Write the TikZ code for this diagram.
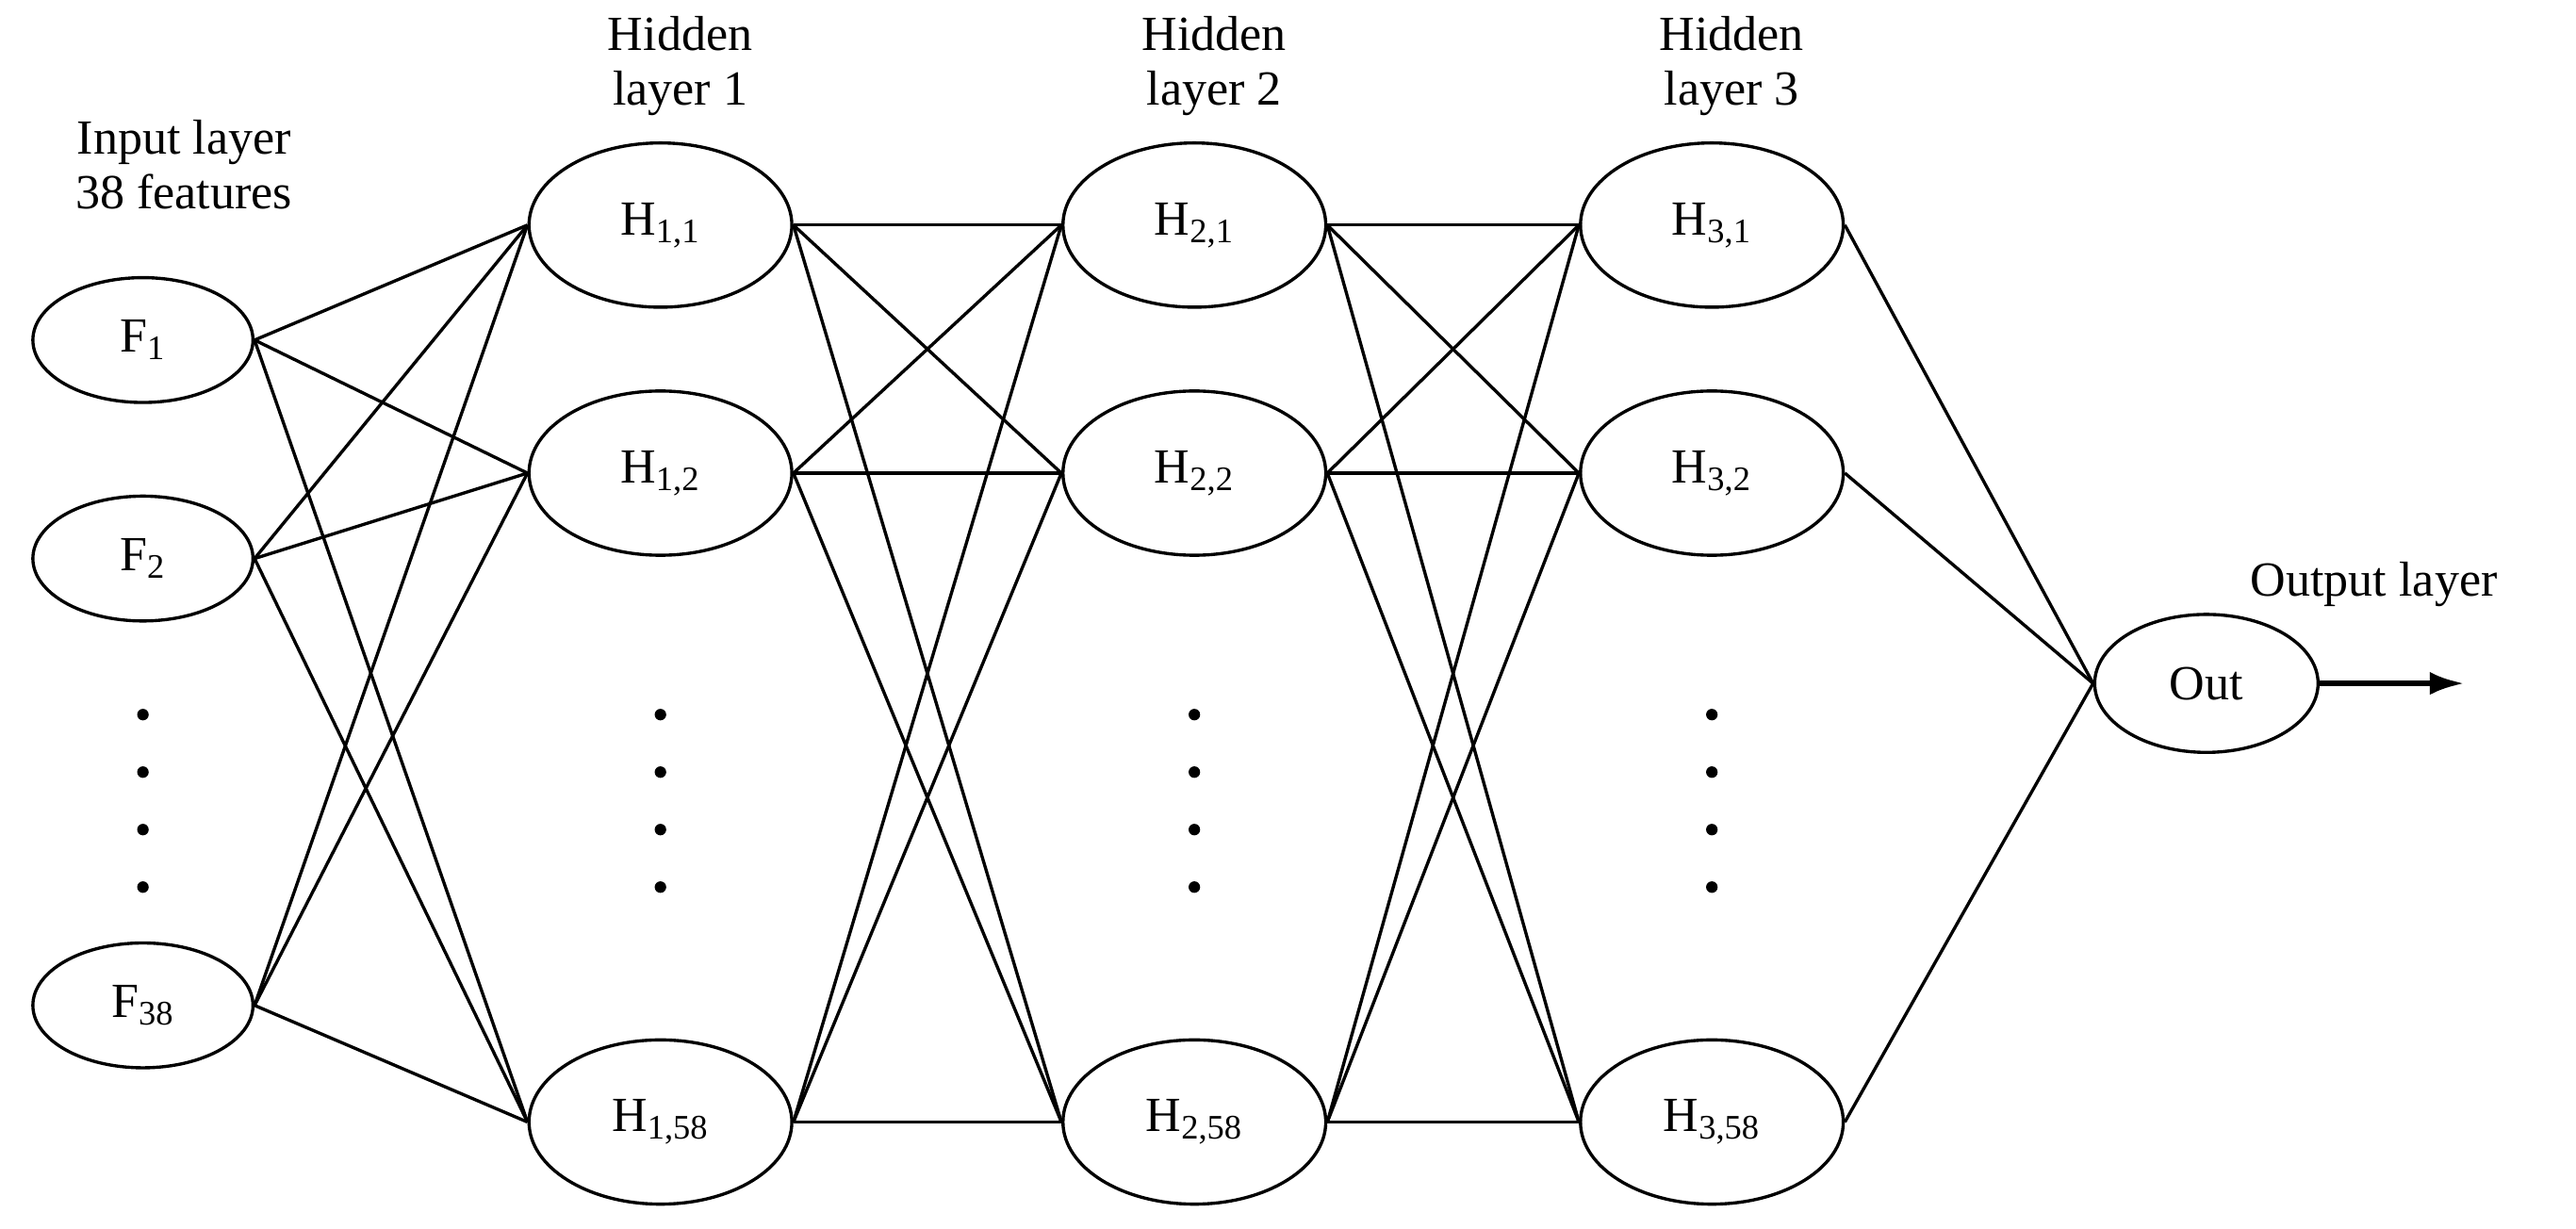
\documentclass[tikz,border=0pt]{standalone}
\usepackage{fontspec}
\setmainfont{Liberation Serif}
\usetikzlibrary{shapes.geometric,arrows.meta}
\begin{document}
\begin{tikzpicture}[x=0.02cm,y=-0.02cm,
  every node/.style={font=\fontsize{17}{20}\selectfont},
  inp/.style={ellipse,draw,line width=1.1pt,minimum width=134\pgflinewidth*0+2.68cm,minimum height=1.52cm,inner sep=0pt},
  hid/.style={ellipse,draw,line width=1.1pt,minimum width=3.2cm,minimum height=2cm,inner sep=0pt},
  outn/.style={ellipse,draw,line width=1.1pt,minimum width=2.72cm,minimum height=1.68cm,inner sep=0pt},
  lbl/.style={align=center,font=\fontsize{17}{19}\selectfont},
  dot/.style={circle,fill,inner sep=0pt,minimum size=4pt},
  con/.style={line width=1.1pt}]
\useasboundingbox (0,0) rectangle (1568,748);
\node[inp] (F1) at (87,207) {F\textsubscript{1}};
\node[inp] (F2) at (87,340) {F\textsubscript{2}};
\node[inp] (F38) at (87,612) {F\textsubscript{38}};
\foreach \i/\x in {1/402,2/727,3/1042}{
  \node[hid] (H\i a) at (\x,137) {H\textsubscript{\i,1}};
  \node[hid] (H\i b) at (\x,288) {H\textsubscript{\i,2}};
  \node[hid] (H\i c) at (\x,683) {H\textsubscript{\i,58}};
  \foreach \y [count=\k] in {435,470,505,540} \node[dot] (d\i\k) at (\x,\y) {};
}
\foreach \y [count=\k] in {435,470,505,540} \node[dot] (d0\k) at (87,\y) {};
\node[outn] (Out) at (1343,416) {Out};
\coordinate (arr) at (1500,416);
\node[lbl] (Lin) at (112,100) {Input layer\\38 features};
\node[lbl] (L1) at (414,40) {Hidden\\layer 1};
\node[lbl] (L2) at (739,40) {Hidden\\layer 2};
\node[lbl] (L3) at (1054,40) {Hidden\\layer 3};
\node[lbl] (Lout) at (1445,356) {Output layer};
\foreach \s in {F1,F2,F38} \foreach \t in {a,b,c} \draw[con] (\s.east) -- (H1\t.west);
\foreach \s in {a,b,c} \foreach \t in {a,b,c} {
  \draw[con] (H1\s.east) -- (H2\t.west);
  \draw[con] (H2\s.east) -- (H3\t.west);}
\foreach \s in {a,b,c} \draw[con] (H3\s.east) -- (Out.west);
\draw[line width=2pt,-{Latex[length=12pt,width=8pt]}] (Out.east) -- (arr);
\end{tikzpicture}
\end{document}
